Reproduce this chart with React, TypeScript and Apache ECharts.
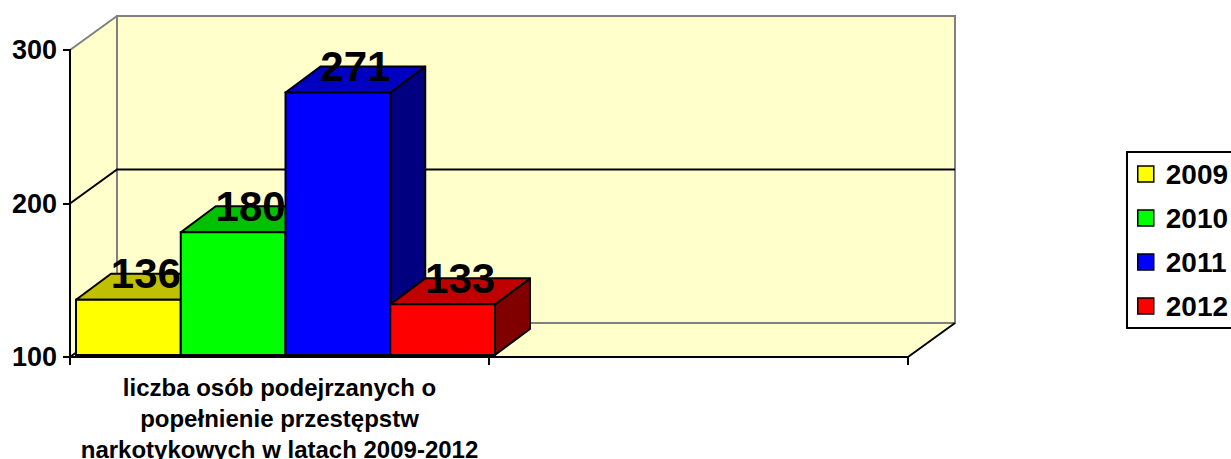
import React, { useEffect, useRef } from "react";
import * as echarts from "echarts";

const categories = [
  "liczba osób podejrzanych o\npopełnienie przestępstw\nnarkotykowych w latach 2009-2012",
  "",
];
const years = ["2009", "2010", "2011", "2012"];
const values = [136, 180, 271, 133];
const frontColors = ["#FFFF00", "#00FF00", "#0000FF", "#FF0000"];
const topColors = ["#C0C000", "#00C000", "#0000C0", "#C00000"];
const sideColors = ["#808000", "#008000", "#000080", "#800000"];
const Y_MIN = 100;
const Y_MAX = 300;
const Y_STEP = 100;
const yTicks = [100, 200, 300];

const FONT = "Arial, 'Liberation Sans', sans-serif";
const WALL = "#FFFFCC";
const GRAY = "#808080";
// wall depth
const DX = 47;
const DY = -34;
// bar depth and offset
const BDX = 35;
const BDY = -26;
const OX = 6;
const OY = -2;

export default function App() {
  const ref = useRef<HTMLDivElement>(null);
  useEffect(() => {
    document.body.style.margin = "0";
    const chart = echarts.init(ref.current!, null, { renderer: "svg" });

    const wallSeries: any = {
      type: "custom",
      name: "walls",
      z: 1,
      silent: true,
      data: [[0, Y_MIN]],
      encode: { x: 0, y: 1 },
      renderItem: (params: any, api: any) => {
        const cs = params.coordSys;
        const x = cs.x, y = cs.y, w = cs.width, h = cs.height;
        const children: any[] = [];
        children.push({
          type: "polygon",
          shape: { points: [[x, y], [x + DX, y + DY], [x + DX, y + h + DY], [x, y + h]] },
          style: { fill: WALL, stroke: null },
        });
        children.push({
          type: "polygon",
          shape: { points: [[x, y + h], [x + w, y + h], [x + w + DX, y + h + DY], [x + DX, y + h + DY]] },
          style: { fill: WALL, stroke: null },
        });
        children.push({
          type: "rect",
          shape: { x: x + DX, y: y + DY, width: w, height: h },
          style: { fill: WALL, stroke: GRAY, lineWidth: 2 },
        });
        yTicks.forEach((t) => {
          if (t === Y_MIN || t === Y_MAX) return;
          const yy = api.coord([0, t])[1];
          children.push({
            type: "polyline",
            shape: { points: [[x, yy], [x + DX, yy + DY], [x + w + DX, yy + DY]] },
            style: { stroke: "#000", lineWidth: 2, fill: null },
          });
        });
        children.push({
          type: "line",
          shape: { x1: x, y1: y, x2: x + DX, y2: y + DY },
          style: { stroke: GRAY, lineWidth: 2 },
        });
        children.push({
          type: "line",
          shape: { x1: x, y1: y + h, x2: x + DX, y2: y + h + DY },
          style: { stroke: "#000", lineWidth: 2 },
        });
        children.push({
          type: "line",
          shape: { x1: x + w, y1: y + h, x2: x + w + DX, y2: y + h + DY },
          style: { stroke: "#000", lineWidth: 2 },
        });
        return { type: "group", children };
      },
    };

    const barSeries = years.map((yr, k) => ({
      type: "custom",
      name: yr,
      z: 2,
      itemStyle: { color: frontColors[k] },
      data: [[0, values[k]]],
      encode: { x: 0, y: 1 },
      renderItem: (params: any, api: any) => {
        const cat = api.value(0);
        const v = api.value(1);
        const top = api.coord([cat, v]);
        const base = api.coord([cat, Y_MIN]);
        const catW = api.size([1, 0])[0];
        const w = catW / years.length;
        const x0 = top[0] - catW / 2 + k * w + OX;
        const yT = top[1] + OY;
        const yB = base[1] + OY;
        return {
          type: "group",
          children: [
            {
              type: "polygon",
              shape: { points: [[x0 + w, yT], [x0 + w + BDX, yT + BDY], [x0 + w + BDX, yB + BDY], [x0 + w, yB]] },
              style: { fill: sideColors[k], stroke: "#000", lineWidth: 2, lineJoin: "round" },
            },
            {
              type: "polygon",
              shape: { points: [[x0, yT], [x0 + w, yT], [x0 + w + BDX, yT + BDY], [x0 + BDX, yT + BDY]] },
              style: { fill: topColors[k], stroke: "#000", lineWidth: 2, lineJoin: "round" },
            },
            {
              type: "rect",
              shape: { x: x0, y: yT, width: w, height: yB - yT },
              style: { fill: frontColors[k], stroke: "#000", lineWidth: 2 },
            },
            {
              type: "text",
              z2: 100,
              x: x0 + w / 2 + BDX / 2,
              y: yT + BDY,
              style: {
                text: String(v),
                fill: "#000",
                font: `bold 42px ${FONT}`,
                align: "center",
                verticalAlign: "middle",
              },
            },
          ],
        };
      },
    }));

    chart.setOption({
      animation: false,
      backgroundColor: "#FFFFFF",
      grid: { left: 70, right: 323, top: 50, bottom: 102, outerBoundsMode: "none", containLabel: false },
      graphic: [
        {
          type: "rect",
          shape: { x: 1127, y: 152, width: 140, height: 176 },
          style: { fill: "none", stroke: "#000", lineWidth: 2 },
          silent: true,
        },
      ],
      xAxis: {
        type: "category",
        data: categories,
        boundaryGap: true,
        z: 10,
        axisLine: { lineStyle: { color: "#000", width: 2 } },
        axisTick: { show: true, length: 8, lineStyle: { color: "#000", width: 2 } },
        axisLabel: {
          interval: 0,
          margin: 15,
          color: "#000",
          fontFamily: FONT,
          fontWeight: "bold",
          fontSize: 24,
          lineHeight: 31,
        },
        splitLine: { show: false },
      },
      yAxis: {
        type: "value",
        min: Y_MIN,
        max: Y_MAX,
        interval: Y_STEP,
        z: 10,
        axisLine: { show: true, lineStyle: { color: "#000", width: 2 } },
        axisTick: { show: true, length: 7, lineStyle: { color: "#000", width: 2 } },
        axisLabel: {
          margin: 13,
          color: "#000",
          fontFamily: FONT,
          fontWeight: "bold",
          fontSize: 27,
        },
        splitLine: { show: false },
      },
      legend: {
        orient: "vertical",
        left: 1127,
        top: 152,
        data: years,
        icon: "rect",
        itemWidth: 16,
        itemHeight: 16,
        itemGap: 16,
        padding: [8, 0, 8, 10],
        borderWidth: 0,
        itemStyle: { borderColor: "#000", borderWidth: 1.5 },
        textStyle: {
          color: "#000",
          fontFamily: FONT,
          fontWeight: "bold",
          fontSize: 28,
          lineHeight: 28,
          padding: [0, 0, 0, 7],
        },
      },
      series: [wallSeries, ...barSeries],
    });
    return () => chart.dispose();
  }, []);
  return <div ref={ref} style={{ width: 1231, height: 459 }} />;
}
